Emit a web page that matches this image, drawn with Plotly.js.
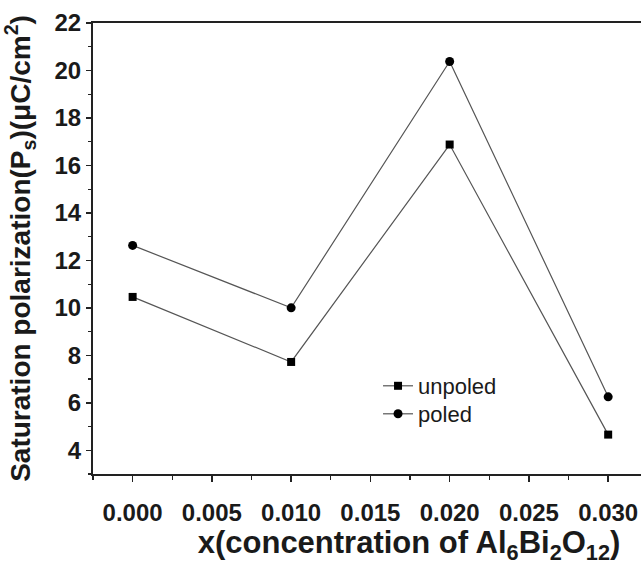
<!DOCTYPE html>
<html>
<head>
<meta charset="utf-8">
<script src="https://cdn.plot.ly/plotly-3.0.1.min.js"></script>
<style>
html,body{margin:0;padding:0;overflow:hidden;background:#fff;width:641px;height:565px;}
#chart{width:725px;height:565px;}
</style>
</head>
<body>
<div id="chart"></div>
<script>
const concentration = [0.000, 0.010, 0.020, 0.030];
const unpoled = [10.46, 7.72, 16.88, 4.66];
const poled = [12.63, 10.0, 20.38, 6.25];
const seriesNames = ["unpoled", "poled"];
const xTickVals = [0.000, 0.005, 0.010, 0.015, 0.020, 0.025, 0.030];
const xTickText = ["0.000", "0.005", "0.010", "0.015", "0.020", "0.025", "0.030"];
const yTickVals = [4, 6, 8, 10, 12, 14, 16, 18, 20, 22];
const xTitle = "x(concentration of Al<sub>6</sub>Bi<sub>2</sub>O<sub>12</sub>)";
const yTitle = "Saturation polarization(P<sub>s</sub>)(μC/cm<sup>2</sup>)";

const fontFam = "Liberation Sans, Arial, sans-serif";
const ink = "#1a1a1a";

const traces = [
  {
    x: concentration, y: unpoled, name: seriesNames[0], legend: "legend",
    type: "scatter", mode: "lines+markers",
    line: {color: "#555555", width: 1.2},
    marker: {symbol: "square", size: 8, color: "#000000"}
  },
  {
    x: concentration, y: poled, name: seriesNames[1], legend: "legend2",
    type: "scatter", mode: "lines+markers",
    line: {color: "#555555", width: 1.2},
    marker: {symbol: "circle", size: 9, color: "#000000"}
  }
];

const legendFont = {family: fontFam, size: 22, color: ink};

const layout = {
  width: 725, height: 565,
  margin: {l: 93, r: 0, t: 23, b: 91},
  paper_bgcolor: "#ffffff", plot_bgcolor: "#ffffff",
  font: {family: fontFam, color: ink},
  showlegend: true,
  legend: {
    x: 0.451, y: 0.2417, xanchor: "left", yanchor: "top",
    bgcolor: "rgba(0,0,0,0)", font: legendFont
  },
  legend2: {
    x: 0.451, y: 0.1796, xanchor: "left", yanchor: "top",
    bgcolor: "rgba(0,0,0,0)", font: legendFont
  },
  xaxis: {
    range: [-0.0025, 0.03737],
    tickmode: "array", tickvals: xTickVals, ticktext: xTickText,
    ticks: "outside", ticklen: 6, tickwidth: 1.5, tickcolor: "#222",
    ticklabelstandoff: 10,
    minor: {tickmode: "linear", tick0: 0, dtick: 0.0025, ticks: "outside", ticklen: 4, tickwidth: 1.2, tickcolor: "#222", showgrid: false},
    showline: true, linecolor: "#222", linewidth: 2, mirror: true,
    showgrid: false, zeroline: false,
    tickfont: {family: fontFam, size: 24, weight: "bold", color: ink},
    title: {text: xTitle, font: {family: fontFam, size: 31, weight: "bold", color: ink}, standoff: 8}
  },
  yaxis: {
    range: [3, 22],
    tickmode: "array", tickvals: yTickVals,
    ticks: "outside", ticklen: 5, tickwidth: 1.5, tickcolor: "#222",
    minor: {tickmode: "linear", tick0: 0, dtick: 1, ticks: "outside", ticklen: 3, tickwidth: 1.2, tickcolor: "#222", showgrid: false},
    showline: true, linecolor: "#222", linewidth: 2, mirror: false,
    showgrid: false, zeroline: false,
    tickfont: {family: fontFam, size: 24, weight: "bold", color: ink},
    title: {text: yTitle, font: {family: fontFam, size: 28, weight: "bold", color: ink}, standoff: 19}
  }
};

Plotly.newPlot("chart", traces, layout, {staticPlot: true, displayModeBar: false});
</script>
</body>
</html>
